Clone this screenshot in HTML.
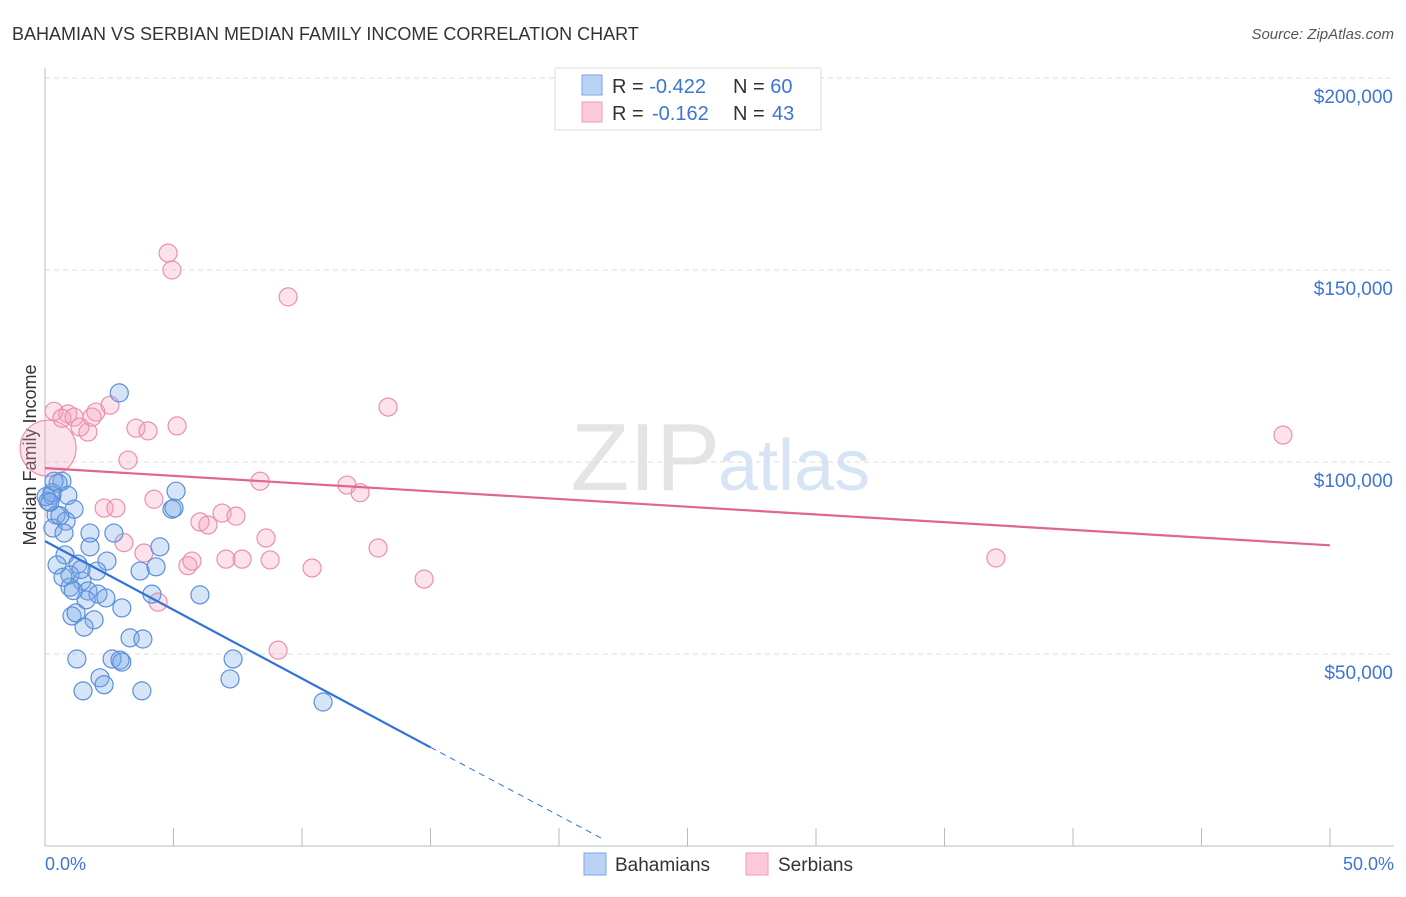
<!DOCTYPE html>
<html><head><meta charset="utf-8"><style>
body{margin:0;background:#fff;font-family:"Liberation Sans",sans-serif;}
svg text{font-family:"Liberation Sans",sans-serif;}
</style></head><body>
<svg id="chart" width="1406" height="892" xmlns="http://www.w3.org/2000/svg">
<text x="12" y="40" font-size="18" fill="#333">BAHAMIAN VS SERBIAN MEDIAN FAMILY INCOME CORRELATION CHART</text>
<text x="1394" y="39" font-size="15" fill="#555" font-style="italic" text-anchor="end">Source: ZipAtlas.com</text>
<text x="720" y="490" font-size="96" fill="#e4e4e4" font-family="Liberation Serif" text-anchor="end">ZIP</text>
<text x="718" y="490" font-size="72" fill="#d6e4f5">atlas</text>
<g id="grid"></g>
<line x1="45" y1="68" x2="45" y2="846" stroke="#bbb"/>
<line x1="45" y1="846" x2="1394" y2="846" stroke="#bbb"/>
<text x="36" y="455" font-size="18" fill="#333" transform="rotate(-90 36 455)" text-anchor="middle">Median Family Income</text>
<text x="45" y="870" font-size="18" fill="#3d74d6">0.0%</text>
<text x="1394" y="870" font-size="18" fill="#3d74d6" text-anchor="end">50.0%</text>
<g id="pts"></g><g id="lines"></g>
<g>
<rect x="555" y="68" width="266" height="62" fill="#fff" stroke="#ddd"/>
<rect x="582" y="75" width="20" height="20" fill="#b9d3f5" stroke="#7aa6e6"/>
<rect x="582" y="102" width="20" height="20" fill="#fcc9da" stroke="#f09ab6"/>
<text x="612" y="93" font-size="20" fill="#333">R = <tspan fill="#3d74d6">-0.422</tspan><tspan x="733">N = </tspan><tspan fill="#3d74d6">60</tspan></text>
<text x="612" y="120" font-size="20" fill="#333">R = <tspan fill="#3d74d6" x="652">-0.162</tspan><tspan x="733">N = </tspan><tspan fill="#3d74d6" x="772">43</tspan></text>
</g>
<g>
<rect x="584" y="853" width="22" height="22" fill="#b9d3f5" stroke="#7aa6e6"/>
<text x="615" y="871" font-size="19" fill="#333">Bahamians</text>
<rect x="746" y="853" width="22" height="22" fill="#fcc9da" stroke="#f09ab6"/>
<text x="778" y="871" font-size="19" fill="#333">Serbians</text>
</g>
</svg>
<script>
const yTicks=[50000,100000,150000,200000];
const yTickLabels=["$50,000","$100,000","$150,000","$200,000"];
const blueX=[2.89,0.66,0.51,0.27,0.89,0.12,1.13,0.43,0.82,0.31,0.74,5.1,4.94,5.02,1.75,2.68,1.75,4.47,0.78,0.47,2.41,1.28,2.02,0.97,3.7,4.32,1.44,0.97,1.67,2.06,2.37,4.16,6.03,1.6,2.99,1.05,1.21,1.91,1.52,3.31,3.81,1.24,2.61,2.92,7.32,2.99,2.14,2.3,7.2,1.48,3.77,10.82,0.27,0.58,0.04,0.19,0.35,0.7,1.1,1.4];
const blueY=[118000,95000,94500,91300,91300,89800,87700,86200,84600,82800,81500,92400,87700,88000,81500,81500,77900,77900,75800,73200,74200,73400,71600,70600,71600,72700,69000,67400,66400,65600,64600,65600,65400,64100,62000,59900,60700,58900,57000,54200,53900,48700,48700,48400,48700,47900,43800,42000,43500,40400,40400,37500,92000,86000,91000,89500,95000,70000,66500,72000];
const redX=[0.12,4.79,4.94,9.46,13.35,48.17,0.35,0.89,1.98,2.53,0.66,1.13,1.36,1.67,1.83,3.54,4.01,5.14,3.23,8.37,11.75,12.26,4.24,2.3,2.76,6.03,6.34,6.89,7.43,3.07,8.6,12.96,3.85,5.56,5.72,7.04,7.67,8.76,10.39,14.75,37.0,9.07,4.4];
const redY=[103600,154400,150000,143000,114300,107000,113200,112500,113000,114800,111400,111700,109100,107800,111700,108800,108100,109400,100500,95000,94000,92000,90300,88000,88000,84400,83600,86700,85900,79000,80200,77600,76300,73000,74200,74700,74700,74500,72400,69500,75000,51000,63500];
const redR=[28];
const x0=45,x1=1330,yBase=846,yPer=192/50000;
const X=v=>x0+(v/50)*(x1-x0), Y=v=>yBase-v*yPer;
const NS='http://www.w3.org/2000/svg';
const g=document.getElementById('grid');
yTicks.forEach((t,i)=>{
 const l=document.createElementNS(NS,'line');
 l.setAttribute('x1',45);l.setAttribute('x2',1394);l.setAttribute('y1',Y(t));l.setAttribute('y2',Y(t));
 l.setAttribute('stroke','#ddd');l.setAttribute('stroke-dasharray','5,4');
 
 
 g.appendChild(l);
 const tx=document.createElementNS(NS,'text');
 tx.setAttribute('x',1393);tx.setAttribute('y',Y(t)+25);tx.setAttribute('text-anchor','end');
 tx.setAttribute('font-size','19');tx.setAttribute('fill','#3d74d6');tx.textContent=yTickLabels[i];
 
 
 g.appendChild(tx);
});
const gl=document.createElementNS(NS,'line');
gl.setAttribute('x1',45);gl.setAttribute('x2',1394);gl.setAttribute('y1',78);gl.setAttribute('y2',78);
gl.setAttribute('stroke','#ddd');gl.setAttribute('stroke-dasharray','5,4');


g.appendChild(gl);
for(let i=1;i<=10;i++){
 const l=document.createElementNS(NS,'line');
 const xx=X(i*5);
 l.setAttribute('x1',xx);l.setAttribute('x2',xx);l.setAttribute('y1',828);l.setAttribute('y2',846);
 l.setAttribute('stroke','#bbb');
 
 
 g.appendChild(l);
}
const p=document.getElementById('pts');
function dot(x,y,r,fill,stroke,name){
 const c=document.createElementNS(NS,'circle');
 c.setAttribute('cx',X(x));c.setAttribute('cy',Y(y));c.setAttribute('r',r);
 c.setAttribute('fill',fill);c.setAttribute('stroke',stroke);c.setAttribute('stroke-width','1.2');
 
 
 p.appendChild(c);
}
redX.forEach((v,i)=>dot(v,redY[i],i===0?redR[0]:9,'rgba(246,160,190,0.3)','#ec8fae','serbian-point'));
blueX.forEach((v,i)=>dot(v,blueY[i],9,'rgba(120,165,230,0.3)','#5b8fdc','bahamian-point'));
const L=document.getElementById('lines');
function line(a,b,c,d,col,dash,name){
 const l=document.createElementNS(NS,'line');
 l.setAttribute('x1',X(a));l.setAttribute('y1',Y(b));l.setAttribute('x2',X(c));l.setAttribute('y2',Y(d));
 l.setAttribute('stroke',col);l.setAttribute('stroke-width',dash?1:2.2);
 if(dash)l.setAttribute('stroke-dasharray','6,5');
 
 
 L.appendChild(l);
}
const blueTrend=[0,79400,15,25700,21.8,1500];
const redTrend=[0,98400,50,78300];
line(blueTrend[0],blueTrend[1],blueTrend[2],blueTrend[3],'#2f72d8',false,'bahamian-trendline');
line(blueTrend[2],blueTrend[3],blueTrend[4],blueTrend[5],'#2f72d8',true,'bahamian-trendline-extension');
line(redTrend[0],redTrend[1],redTrend[2],redTrend[3],'#e0668f',false,'serbian-trendline');
</script>
</body></html>
